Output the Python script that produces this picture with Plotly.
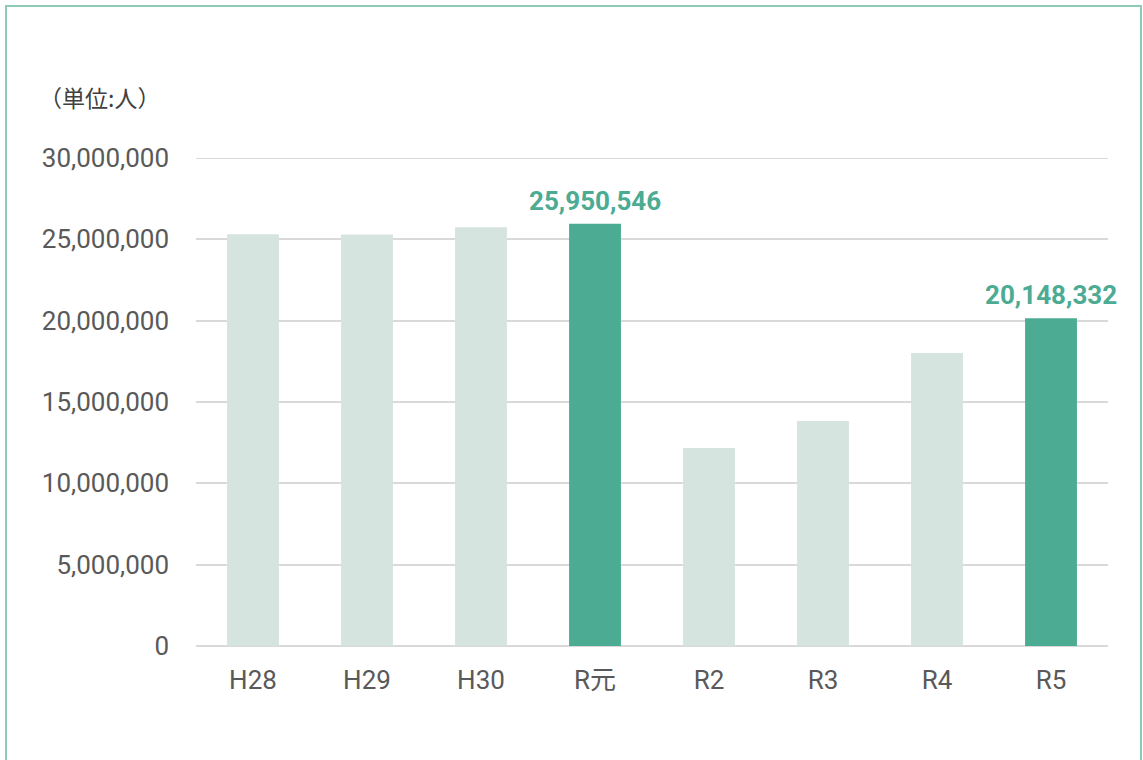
import plotly.graph_objects as go

categories = ["H28", "H29", "H30", "R元", "R2", "R3", "R4", "R5"]
values = [25320000, 25300000, 25750000, 25950546, 12170000, 13830000, 18010000, 20148332]
highlight = [False, False, False, True, False, False, False, True]
y_tickvals = [0, 5000000, 10000000, 15000000, 20000000, 25000000, 30000000]
y_ticktext = ["0", "5,000,000", "10,000,000", "15,000,000", "20,000,000", "25,000,000", "30,000,000"]
unit_label = "（単位:人）"

LIGHT = "#d6e4df"
DARK = "#4bab93"
GRID = "#d9d9d9"
W, H = 1143, 760
L, R, T, B = 196, 35, 158, 114
PW, PH = W - L - R, H - T - B

def px_x(x):
    return (x - L) / PW

def px_y(y):
    return (H - B - y) / PH

colors = [DARK if h else LIGHT for h in highlight]

fig = go.Figure()
fig.add_trace(go.Bar(
    x=categories, y=values,
    marker=dict(color=colors, line=dict(width=0)),
    hoverinfo="skip",
))

annotations = [dict(
    text=unit_label, xref="paper", yref="paper",
    x=px_x(37), y=px_y(97), xanchor="left", yanchor="middle",
    showarrow=False,
    font=dict(family="Noto Sans CJK JP", size=23, color="#404040"),
)]
for c, v, h in zip(categories, values, highlight):
    if h:
        annotations.append(dict(
            text=f"{v:,}", x=c, y=v, xref="x", yref="y",
            xanchor="center", yanchor="bottom", yshift=6, showarrow=False,
            font=dict(family="Roboto, Noto Sans CJK JP", size=26, color=DARK, weight="bold"),
        ))

shapes = [dict(
    type="rect", xref="paper", yref="paper",
    x0=px_x(6), x1=px_x(1141), y0=px_y(790), y1=px_y(6),
    line=dict(color="#8fcab6", width=2), fillcolor="rgba(0,0,0,0)",
    layer="below",
), dict(
    type="line", xref="paper", yref="y",
    x0=0, x1=1, y0=y_tickvals[-1], y1=y_tickvals[-1],
    line=dict(color=GRID, width=2), layer="below",
)]

fig.update_layout(
    width=W, height=H,
    margin=dict(l=L, r=R, t=T, b=B, pad=0),
    paper_bgcolor="white", plot_bgcolor="white",
    bargap=0.545,
    showlegend=False,
    font=dict(family="Roboto, Noto Sans CJK JP", size=26, color="#595959"),
    xaxis=dict(
        type="category", range=[-0.5, len(categories) - 0.5],
        showgrid=False, zeroline=False, showline=False,
        ticks="", tickfont=dict(size=26, color="#595959",
                                family="Roboto, Noto Sans CJK JP"),
        ticklabelstandoff=16,
    ),
    yaxis=dict(
        range=[0, 30000000], tickvals=y_tickvals, ticktext=y_ticktext,
        showgrid=True, gridcolor=GRID, gridwidth=2,
        zeroline=True, zerolinecolor=GRID, zerolinewidth=2,
        showline=False, ticks="",
        tickfont=dict(size=26, color="#595959", family="Roboto, Noto Sans CJK JP"),
        ticklabelstandoff=26,
    ),
    annotations=annotations,
    shapes=shapes,
)

fig.write_html("out.html", config={"displayModeBar": False},
               post_script="document.body.style.margin='0';")
